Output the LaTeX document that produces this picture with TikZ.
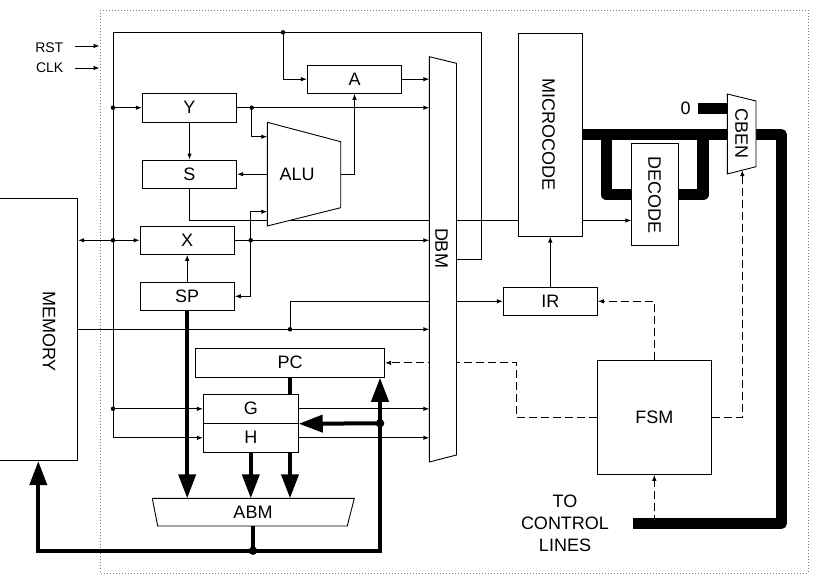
\documentclass[tikz,border=0pt]{standalone}
\usepackage{fontspec}
\setmainfont{Liberation Sans}
\usetikzlibrary{arrows.meta,backgrounds}
\begin{document}
\begin{tikzpicture}[x=1pt,y=-1pt,
  box/.style={draw, line width=0.9pt, fill=white, inner sep=0pt, font=\fontsize{18}{22}\selectfont},
  lbl/.style={inner sep=0pt, font=\fontsize{18}{22}\selectfont},
  small/.style={font=\fontsize{14}{16}\selectfont},
  wire/.style={line width=0.9pt},
  sa/.style={-{Latex[length=6pt,width=4.5pt]}},
  sab/.style={{Latex[length=6pt,width=4.5pt]}-{Latex[length=6pt,width=4.5pt]}},
  dsh/.style={wire, dash pattern=on 8pt off 4pt},
  bus/.style={line width=4pt},
  big/.style={-{Triangle[length=24pt,width=17pt]}},
  bigb/.style={{Triangle[length=24pt,width=17pt]}-{Triangle[length=24pt,width=17pt]}},
  ctl/.style={line width=11.5pt, line join=round},
  dot/.style={circle, fill, inner sep=0pt, minimum size=4.5pt},
  bigdot/.style={circle, fill, inner sep=0pt, minimum size=8.5pt},
]
\useasboundingbox (0,0) rectangle (825,583);
\draw[gray, line width=0.7pt, dash pattern=on 1pt off 2pt] (100,10) rectangle (808,573);

% boxes
\node[box, minimum width=94.4pt, minimum height=28.3pt] (A) at (354.5,79.2) {A};
\node[box, minimum width=94.4pt, minimum height=28.7pt] (Y) at (189.5,107.7) {Y};
\node[box, minimum width=94.4pt, minimum height=28.3pt] (S) at (189.5,174.2) {S};
\node[box, minimum width=94.3pt, minimum height=28pt] (X) at (187.2,240.3) {X};
\node[box, minimum width=94.3pt, minimum height=28pt] (SP) at (187.2,296.3) {SP};
\node[box, minimum width=189.4pt, minimum height=29pt] (PC) at (290,362.8) {PC};
\node[box, minimum width=95pt, minimum height=29pt] (G) at (250.8,408.8) {G};
\node[box, minimum width=95pt, minimum height=29pt] (H) at (250.8,437.8) {H};
\node[box, minimum width=90pt, minimum height=262.4pt] (MEM) at (32.7,329.5) {};
\node[lbl, rotate=-90] (MEMt) at (49,331.5) {MEMORY};
\node[box, minimum width=64pt, minimum height=202.7pt] (MICRO) at (550.3,134.7) {};
\node[lbl, rotate=-90] (MICROt) at (548.5,135) {MICROCODE};
\node[box, minimum width=94pt, minimum height=28pt] (IR) at (550.3,301.3) {IR};
\node[box, minimum width=114pt, minimum height=113.6pt] (FSM) at (654.3,417.5) {FSM};
\node[box, minimum width=47pt, minimum height=101.7pt] (DEC) at (655.2,194.8) {};
\node[lbl, rotate=-90] (DECt) at (654.5,195) {DECODE};

% trapezoids
\draw[wire, fill=white] (267.3,122.3) -- (340.7,141.7) -- (340.7,207.7) -- (267.3,226) -- cycle;
\node[lbl] (ALU) at (297.2,174.2) {ALU};
\coordinate (aluA) at (267.3,136.7);
\coordinate (aluB) at (267.3,211.7);
\coordinate (aluS) at (267.3,174.2);
\coordinate (aluO) at (340.7,174.2);

\draw[wire, fill=white] (727.3,94) -- (756,101) -- (756,166.7) -- (727.3,174) -- cycle;
\node[lbl, rotate=-90] (CBEN) at (741.5,133.5) {CBEN};
\coordinate (cbenW) at (727.3,108.3);
\coordinate (cbenS) at (742.3,170.2);

\draw[wire, fill=white] (152.3,498.3) -- (354.3,498.3) -- (347.3,526) -- (157.7,526) -- cycle;
\node[lbl] (ABM) at (253,512.5) {ABM};
\coordinate (abmS) at (253,526);

\draw[wire, fill=white] (429.3,56.7) -- (456.5,63.3) -- (456.5,455) -- (429.3,462) -- cycle;
\node[lbl, rotate=-90] (DBM) at (441.5,248) {DBM};
\coordinate (dbmL) at (429.3,0);
\coordinate (dbmR) at (456.5,0);

% RST / CLK
\node[lbl, small, anchor=east] (RST) at (63.5,47.5) {RST};
\node[lbl, small, anchor=east] (CLK) at (63.5,68) {CLK};
\coordinate (rstin) at (99.5,46);
\coordinate (clkin) at (99.5,68);
\draw[wire, sa] (rstin -| 75,0) -- (rstin);
\draw[wire, sa] (clkin -| 75,0) -- (clkin);

% thin wires
\draw[wire, sa] (dbmR |- 0,259) -- (481,259) -- (481,32.3) -- (113,32.3) |- (H.west);
\node[dot] (d1) at (283,32.3) {};
\draw[wire, sa] (d1.center) |- (A.west);
\draw[wire, sa] (A.east) -- (A.east -| dbmL);
\node[dot] (d2) at (113,107.7) {};
\draw[wire, sa] (d2.center) -- (Y.west);
\draw[wire, sa] (Y.east) -- (Y.east -| dbmL);
\node[dot] (d3) at (251.7,107.7) {};
\draw[wire, sa] (d3.center) |- (aluA);
\draw[wire, sa] (Y.south) -- (S.north);
\draw[wire, sa] (aluS) -- (S.east);
\draw[wire, sa] (aluO) -| (A.south);
\draw[wire, sab] (MEM.east |- X.west) -- (X.west);
\node[dot] (d4) at (113,240.3) {};
\draw[wire, sa] (X.east) -- (X.east -| dbmL);
\node[dot] (d5) at (250.7,240.3) {};
\draw[wire, sa] (d5.center) |- (aluB);
\draw[wire, sa] (d5.center) |- (SP.east);
\draw[wire, sa] (SP.north) -- (X.south);
\draw[wire, sa] (MEM.east |- 0,329.3) -- (dbmL |- 0,329.3);
\node[dot] (d6) at (290,329.3) {};
\node[dot] (d7) at (113,408.8) {};
\draw[wire, sa] (d7.center) -- (G.west);
\draw[wire, sa] (G.east) -- (G.east -| dbmL);
\draw[wire, sa] (H.east) -- (H.east -| dbmL);
\draw[wire, sa] (IR.north) -- (MICRO.south);
\draw[wire, sa] (MICRO.east |- 0,220.5) -- (DEC.west |- 0,220.5);

% dashed control
\draw[dsh, sa] (FSM.north) |- (IR.east);
\draw[dsh, sa] (FSM.east) -| (cbenS);
\draw[dsh, sa] (FSM.south |- 0,523.3) -- (FSM.south);

% thick buses
\draw[bus, big] (SP.south) -- (SP.south |- 0,498.3);
\draw[bus, big] (H.south) -- (H.south |- 0,498.3);
\draw[bus, big] (H.south -| 290,0) -- (290,498.3);
\draw[bus] (PC.south) -- (PC.south |- G.north);
\draw[bus] (abmS) -- (253,550.7);
\draw[bus, bigb] (MEM.south -| 38.3,0) |- (380,550.7) -- (PC.south -| 380,0);
\node[bigdot] (d8) at (253,550.7) {};
\node[bigdot] (d9) at (380,423.3) {};
\draw[bus, big] (d9.center) -- (G.south east);

% labels
\node[lbl] (zero) at (685.7,108.5) {0};
\node[lbl, align=center] (TCL) at (565,523.8) {TO\\CONTROL\\LINES};

% lines passing behind boxes
\begin{scope}[on background layer]
  \draw[ctl] (MICRO.east) -- (781.3,134.7) -- (781.3,523.3) -- (633,523.3);
  \draw[ctl] (606.5,134.7) -- (606.5,194.7) -- (703,194.7) -- (703,134.7);
  \draw[line width=11pt] (cbenW -| 698.3,0) -- (cbenW);
  \draw[wire] (S.south) |- (MICRO.west |- 0,220.3);
  \draw[wire, sa] (d6.center) |- (IR.west);
  \coordinate (pcT) at (516.7,0);
  \draw[dsh, sa] (FSM.west) -| (pcT |- PC.east) -- (PC.east);
\end{scope}
\end{tikzpicture}
\end{document}
